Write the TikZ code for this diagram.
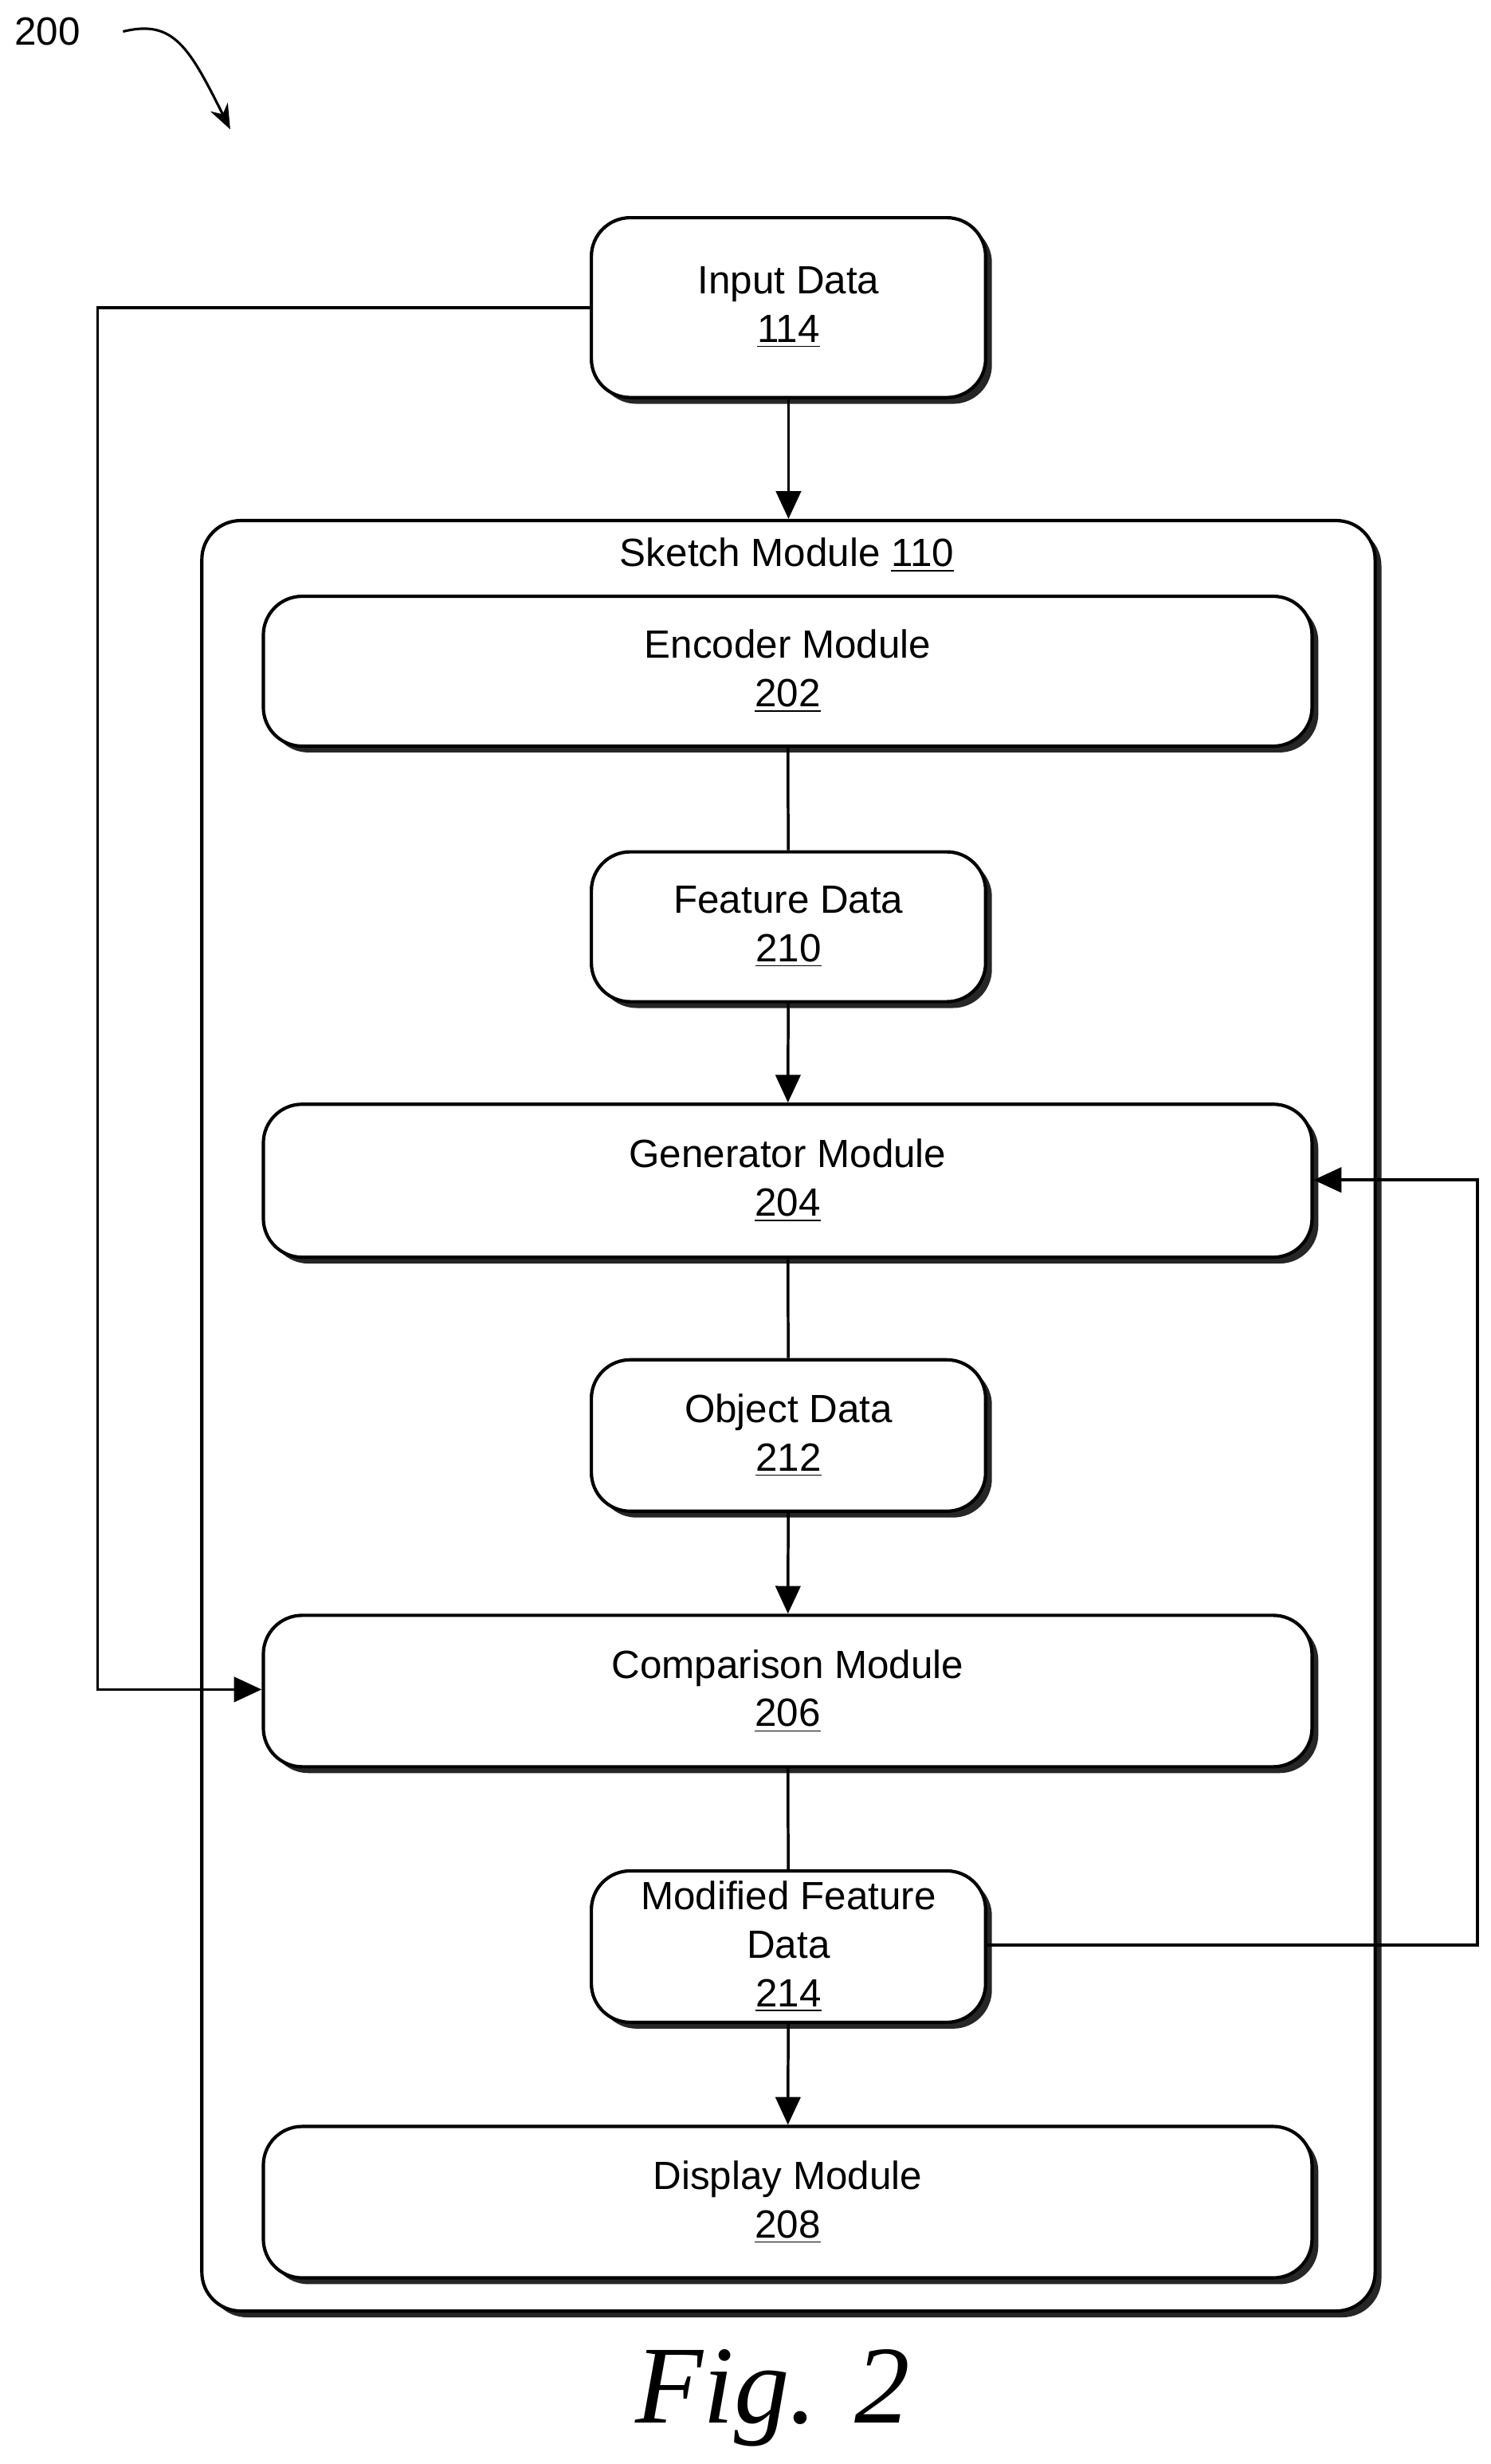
\documentclass[tikz,border=0pt]{standalone}
\usepackage{fontspec}
\setmainfont{Liberation Sans}
\newfontfamily\figfont{Liberation Serif}
\usetikzlibrary{arrows.meta}
\begin{document}
\begin{tikzpicture}[x=0.02cm,y=-0.02cm,
  box/.style={draw=black,line width=1.2pt,fill=white,rounded corners=14pt,align=center,
    font=\fontsize{14.2}{17.5}\selectfont,inner sep=0pt},
  sh/.style={fill=black!85,rounded corners=14pt},
  arr/.style={-{Triangle[length=10pt,width=9pt]},line width=1pt},
  ln/.style={line width=1pt}]
\useasboundingbox (0,0) rectangle (945,1562);
\newcommand{\bx}[6]{% name x1 y1 x2 y2 text
  \fill[sh] (#2+4,#3+4) rectangle (#4+4,#5+4);
  \node[box,minimum width={(#4-#2)*0.02cm},minimum height={(#5-#3)*0.02cm}] (#1) at ({(#2+#4)/2},{(#3+#5)/2}) {#6};}
% label 200
\node[font=\fontsize{14.2}{15}\selectfont] (n200) at (30,20) {200};
\coordinate (c1) at (78,20);
\coordinate (c2) at (146,82);
\draw[line width=0.9pt,-{Stealth[length=9pt,width=7pt]}] (c1) .. controls (110,12) and (120,30) .. (c2);
% outer
\fill[sh] (132,334) rectangle (876,1469);
\node[box,minimum width={744*0.02cm},minimum height={1135*0.02cm}] (sk) at (500,897.5) {};
\node[font=\fontsize{14.2}{15}\selectfont] (skl) at (499,352) {Sketch Module \underline{110}};
\bx{inp}{375}{138}{625}{252}{Input Data\\\underline{114}}
\bx{enc}{167}{378}{832}{473}{Encoder Module\\\underline{202}}
\bx{fea}{375}{540}{625}{635}{Feature Data\\\underline{210}}
\bx{gen}{167}{700}{832}{797}{Generator Module\\\underline{204}}
\bx{obj}{375}{862}{625}{958}{Object Data\\\underline{212}}
\bx{cmp}{167}{1024}{832}{1120}{Comparison Module\\\underline{206}}
\bx{mod}{375}{1186}{625}{1282}{Modified Feature\\Data\\\underline{214}}
\bx{dis}{167}{1348}{832}{1444}{Display Module\\\underline{208}}
\draw[arr] (inp.south) -- (inp.south |- sk.north);
\draw[ln] (enc) -- (fea);
\draw[arr] (fea) -- (gen);
\draw[ln] (gen) -- (obj);
\draw[arr] (obj) -- (cmp);
\draw[ln] (cmp) -- (mod);
\draw[arr] (mod) -- (dis);
\draw[arr] (inp.west |- 0,195) -- (62,195) -- (62,1071) -- (cmp.west |- 0,1071);
\draw[arr] (mod.east |- 0,1233) -- (937,1233) -- (937,748) -- (gen.east |- 0,748);
\node[font=\figfont\itshape\fontsize{40}{44}\selectfont] (fig) at (490,1520) {Fig. 2};
\end{tikzpicture}
\end{document}
